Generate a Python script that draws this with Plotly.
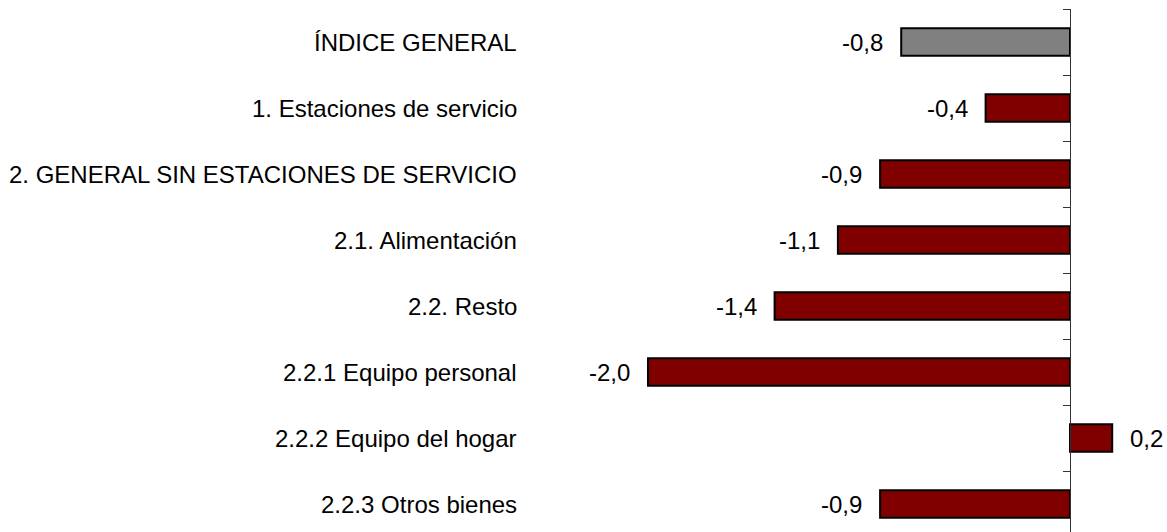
import plotly.graph_objects as go

categories = [
    "ÍNDICE GENERAL",
    "1. Estaciones de servicio",
    "2. GENERAL SIN ESTACIONES DE SERVICIO",
    "2.1. Alimentación",
    "2.2. Resto",
    "2.2.1 Equipo personal",
    "2.2.2 Equipo del hogar",
    "2.2.3 Otros bienes",
]
values = [-0.8, -0.4, -0.9, -1.1, -1.4, -2.0, 0.2, -0.9]
colors = ["#808080"] + ["#800000"] * 7

W, H = 1167, 532
zero_px = 1070
px_per_unit = 211
top_px = 9
cat_px = 66
label_right_px = 519

x_min = -zero_px / px_per_unit
x_max = (W - zero_px) / px_per_unit
y_bottom = -0.5 + (H - top_px) / cat_px

FONT = "Liberation Sans, Arial, sans-serif"
FS = 24

fig = go.Figure()
fig.add_trace(go.Bar(
    y=categories,
    x=values,
    orientation="h",
    width=0.42,
    marker=dict(color=colors, line=dict(color="black", width=2)),
    hoverinfo="skip",
))

annotations = []
for cat, v in zip(categories, values):
    annotations.append(dict(
        x=label_right_px / W, xref="paper", y=cat, yref="y",
        text=cat, showarrow=False, xanchor="right", yanchor="middle",
        font=dict(family=FONT, size=FS, color="black"),
    ))
    label = f"{v:.1f}".replace(".", ",")
    annotations.append(dict(
        x=v, xref="x", y=cat, yref="y",
        text=label, showarrow=False,
        xanchor="right" if v < 0 else "left",
        xshift=-16 if v < 0 else 16,
        yanchor="middle",
        font=dict(family=FONT, size=FS, color="black"),
    ))

fig.update_layout(
    width=W, height=H,
    margin=dict(l=0, r=0, t=top_px, b=0, pad=0),
    paper_bgcolor="white", plot_bgcolor="white",
    showlegend=False,
    font=dict(family=FONT, size=FS, color="black"),
    xaxis=dict(range=[x_min, x_max], visible=False, showgrid=False, zeroline=False),
    yaxis=dict(
        type="category",
        categoryorder="array", categoryarray=categories,
        range=[y_bottom, -0.5],
        anchor="free", position=zero_px / W,
        showline=True, linecolor="#333333", linewidth=1,
        ticks="outside", tickson="boundaries", ticklen=7, tickcolor="#333333", tickwidth=1,
        showticklabels=False, showgrid=False, zeroline=False,
    ),
    annotations=annotations,
    bargap=0.58,
)

fig.write_html(
    "out.html",
    config={"displayModeBar": False},
    post_script="document.documentElement.style.overflow='hidden';"
                "document.body.style.margin='0';document.body.style.overflow='hidden';",
)
